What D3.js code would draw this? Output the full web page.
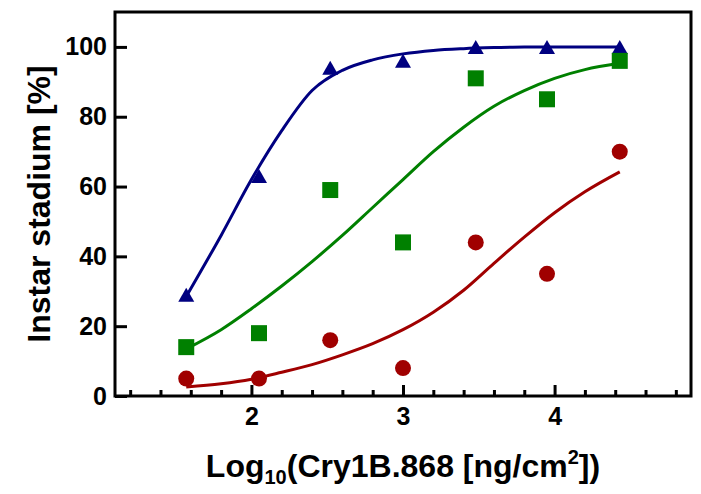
<!DOCTYPE html>
<html><head><meta charset="utf-8">
<script src="https://cdn.jsdelivr.net/npm/d3@7"></script>
<style>
body{margin:0;background:#fff}
text{font-family:"Liberation Sans",Arial,sans-serif;font-weight:bold;fill:#000}
</style>
</head><body><svg id="c" width="701" height="494"></svg>
<script>
// Data (log10 dose vs % in instar stadium)
const doses = [1.57, 2.05, 2.52, 3.0, 3.48, 3.95, 4.43];
const blueValues = [29, 63, 94, 96, 100, 100, 100];
const greenValues = [14, 18, 59, 44, 91, 85, 96];
const redValues = [5, 5, 16, 8, 44, 35, 70];
// Fitted curves
const fitX = [1.57, 1.8, 2.0, 2.2, 2.4, 2.6, 2.8, 3.0, 3.2, 3.4, 3.6, 3.8, 4.0, 4.2, 4.43];
const blueFit = [28.5, 46, 62, 76, 87.5, 93.3, 96.3, 98, 99, 99.5, 99.8, 100, 100, 100, 100];
const greenFit = [13.5, 19, 25, 31.5, 38.5, 46, 54, 62, 70, 77, 83, 87.5, 91, 93.5, 95.3];
const redFit = [2.6, 3.5, 4.8, 6.8, 9, 11.8, 15, 19, 24, 30.3, 38, 45.5, 52.5, 58.5, 64.2];
// Ticks
const xMajorTicks = [2, 3, 4];
const xMinorTicks = [1.2, 1.4, 1.6, 1.8, 2.2, 2.4, 2.6, 2.8, 3.2, 3.4, 3.6, 3.8, 4.2, 4.4, 4.6, 4.8];
const yTicks = [0, 20, 40, 60, 80, 100];

const colors = {blue: "#000080", green: "#008000", red: "#a00000"};
const L = 115, R = 691, T = 12, B = 396;
const svg = d3.select("#c");
const x = d3.scaleLinear().domain([1.1, 4.9]).range([L, R]);
const y = d3.scaleLinear().domain([0, 110]).range([B, T]);

// Axes with inward ticks
const xMinor = svg.append("g").attr("transform", `translate(0,${B})`)
  .call(d3.axisBottom(x).tickValues(xMinorTicks).tickSize(-6).tickFormat(""));
const xMajor = svg.append("g").attr("transform", `translate(0,${B})`)
  .call(d3.axisBottom(x).tickValues(xMajorTicks).tickSize(-11).tickPadding(11).tickFormat(d3.format("d")));
const yAx = svg.append("g").attr("transform", `translate(${L},0)`)
  .call(d3.axisLeft(y).tickValues(yTicks).tickSize(-12).tickPadding(8).tickFormat(d3.format("d")));
[xMinor, xMajor, yAx].forEach(g => {
  g.select(".domain").remove();
  g.selectAll(".tick line").attr("stroke", "#000").attr("stroke-width", 3);
  g.selectAll(".tick text").style("font-size", "25px").attr("font-family", null);
});

// Frame
svg.append("rect").attr("x", L).attr("y", T).attr("width", R - L).attr("height", B - T)
  .attr("fill", "none").attr("stroke", "#000").attr("stroke-width", 3);

// Fit curves
const line = d3.line().x((d, i) => x(fitX[i])).y(d => y(d)).curve(d3.curveMonotoneX);
[[blueFit, colors.blue], [greenFit, colors.green], [redFit, colors.red]].forEach(([vals, c]) => {
  svg.append("path").attr("d", line(vals)).attr("fill", "none").attr("stroke", c).attr("stroke-width", 3);
});

// Markers
svg.append("g").selectAll("path").data(blueValues).join("path")
  .attr("d", "M0,-7L8,7L-8,7Z")
  .attr("transform", (d, i) => `translate(${x(doses[i])},${y(d)})`)
  .attr("fill", colors.blue);
svg.append("g").selectAll("rect").data(greenValues).join("rect")
  .attr("x", (d, i) => x(doses[i]) - 8).attr("y", d => y(d) - 8)
  .attr("width", 16).attr("height", 16).attr("fill", colors.green);
svg.append("g").selectAll("circle").data(redValues).join("circle")
  .attr("cx", (d, i) => x(doses[i])).attr("cy", d => y(d)).attr("r", 8)
  .attr("fill", colors.red);

// Axis titles
svg.append("text").attr("transform", `translate(50,${(T + B) / 2}) rotate(-90)`)
  .attr("text-anchor", "middle").style("font-size", "32px").text("Instar stadium [%]");
const xt = svg.append("text").attr("x", (L + R) / 2).attr("y", 477)
  .attr("text-anchor", "middle").style("font-size", "32px");
xt.append("tspan").text("Log");
xt.append("tspan").attr("dy", 7).style("font-size", "20px").text("10");
xt.append("tspan").attr("dy", -7).text("(Cry1B.868 [ng/cm");
xt.append("tspan").attr("dy", -13).style("font-size", "20px").text("2");
xt.append("tspan").attr("dy", 13).text("])");
</script>
</body></html>
